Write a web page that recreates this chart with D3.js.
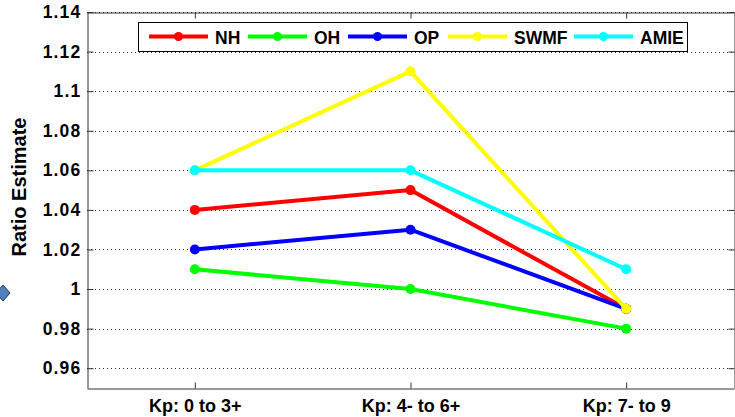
<!DOCTYPE html>
<html><head><meta charset="utf-8">
<script src="https://cdn.jsdelivr.net/npm/d3@7"></script>
<style>body{margin:0;background:#fff}svg{display:block}text{font-family:"Liberation Sans",Arial,sans-serif;font-weight:bold}</style>
</head><body>
<svg id="c" width="735" height="417"></svg>
<script>
const categories = ["Kp: 0 to 3+", "Kp: 4- to 6+", "Kp: 7- to 9"];
const seriesNames = ["NH", "OH", "OP", "SWMF", "AMIE"];
const seriesColors = ["#ff0000", "#00ff00", "#0000ff", "#ffff00", "#00ffff"];
const NH   = [1.04, 1.05, 0.99];
const OH   = [1.01, 1.00, 0.98];
const OP   = [1.02, 1.03, 0.99];
const SWMF = [1.06, 1.11, 0.99];
const AMIE = [1.06, 1.06, 1.01];
const yTicks = [0.96, 0.98, 1.00, 1.02, 1.04, 1.06, 1.08, 1.10, 1.12, 1.14];
const yTickLabels = ["0.96", "0.98", "1", "1.02", "1.04", "1.06", "1.08", "1.1", "1.12", "1.14"];
const series = [NH, OH, OP, SWMF, AMIE];

const svg = d3.select("#c");
const L = 87, R = 734, T = 12, B = 388;
const x = d3.scaleLinear().domain([0.5, 3.5]).range([L, R]);
const y = d3.scaleLinear().domain([0.95, 1.14]).range([B, T]);

// decoration at left edge
svg.append("path").attr("d", "M-4,293 L3,285 L10,293 L3,301 Z")
  .attr("fill", "#4f81bd").attr("stroke", "#1f3550").attr("stroke-width", 1);

// grid
svg.append("g").selectAll("line").data(yTicks).join("line")
  .attr("x1", L).attr("x2", R).attr("y1", d => Math.round(y(d)) + 0.5).attr("y2", d => Math.round(y(d)) + 0.5)
  .attr("stroke", "#333").attr("stroke-width", 1).attr("stroke-dasharray", "1,3");

// axes
const yAxis = d3.axisLeft(y).tickValues(yTicks).tickFormat((d, i) => yTickLabels[i]).tickSizeInner(-6).tickSizeOuter(0).tickPadding(6);
const gy = svg.append("g").attr("transform", `translate(${L + 0.5},0)`).call(yAxis);
gy.selectAll("text").attr("font-size", 17.5).attr("letter-spacing", 1.2).attr("fill", "#000");
const yAxisR = d3.axisRight(y).tickValues(yTicks).tickFormat("").tickSizeInner(-6).tickSizeOuter(0);
svg.append("g").attr("transform", `translate(${R + 0.5},0)`).call(yAxisR);

const xAxis = d3.axisBottom(x).tickValues([1, 2, 3]).tickFormat((d, i) => categories[i]).tickSizeInner(-6).tickSizeOuter(0);
const gx = svg.append("g").attr("transform", `translate(0,${B + 0.5})`).call(xAxis);
gx.selectAll("text").attr("font-size", 18).attr("fill", "#000").attr("y", 23).attr("dy", 0);
const xAxisT = d3.axisTop(x).tickValues([1, 2, 3]).tickFormat("").tickSizeInner(-6).tickSizeOuter(0);
svg.append("g").attr("transform", `translate(0,${T + 0.5})`).call(xAxisT);
svg.selectAll(".domain").attr("stroke", "#333");
svg.selectAll(".tick line").attr("stroke", "#333");

// y label
svg.append("text").attr("transform", "translate(26,187) rotate(-90)").attr("text-anchor", "middle")
  .attr("font-size", 20).text("Ratio Estimate");

// lines
const line = d3.line().x((d, i) => x(i + 1)).y(d => y(d));
series.forEach((s, k) => {
  const g = svg.append("g");
  g.append("path").attr("d", line(s)).attr("fill", "none").attr("stroke", seriesColors[k]).attr("stroke-width", 4).attr("stroke-linejoin", "round");
  g.selectAll("circle").data(s).join("circle").attr("cx", (d, i) => x(i + 1)).attr("cy", d => y(d)).attr("r", 5).attr("fill", seriesColors[k]);
});

// legend
const lg = svg.append("g");
lg.append("rect").attr("x", 138.5).attr("y", 22.5).attr("width", 549).attr("height", 29).attr("fill", "#fff").attr("stroke", "#000").attr("stroke-width", 1);
const legX = [149, 248, 348, 448, 574];
seriesNames.forEach((n, k) => {
  const x0 = legX[k], yy = 36.5;
  lg.append("line").attr("x1", x0).attr("x2", x0 + 59).attr("y1", yy).attr("y2", yy).attr("stroke", seriesColors[k]).attr("stroke-width", 4);
  lg.append("circle").attr("cx", x0 + 29.5).attr("cy", yy).attr("r", 4.5).attr("fill", seriesColors[k]);
  lg.append("text").attr("x", x0 + 66).attr("y", 43.5).attr("font-size", 17.5).text(n);
});
</script>
</body></html>
